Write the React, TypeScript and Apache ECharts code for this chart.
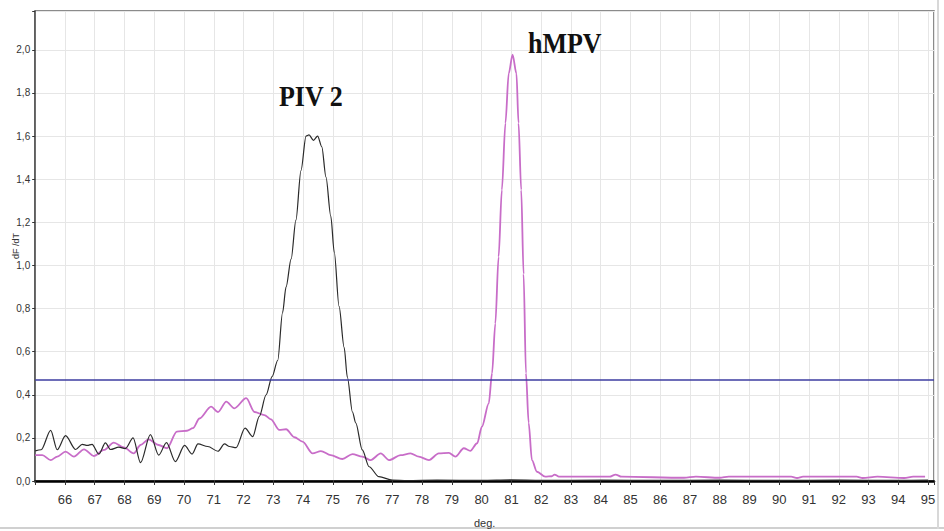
import React, { useEffect, useRef } from "react";
import * as echarts from "echarts";

// PIV 2 melt curve (black): temperature (deg) and dF/dT
const piv2Temp = [
  65.0, 65.2, 65.52, 65.74, 66.02, 66.36, 66.58, 66.75, 66.91, 67.14, 67.36, 67.53, 67.81, 68.03, 68.29,
  68.54, 68.87, 69.15, 69.41, 69.71, 70.02, 70.27, 70.47, 70.8, 71.14, 71.36, 71.53, 71.75, 72.05, 72.31,
  72.53, 72.76, 72.96, 73.15, 73.31, 73.43, 73.6, 73.76, 73.93, 74.1, 74.2, 74.35, 74.49, 74.63, 74.77,
  74.93, 75.05, 75.21, 75.38, 75.49, 75.66, 75.77, 75.99, 76.22, 76.55, 77.0, 77.5, 78.5, 80.0, 81.0,
  82.0, 84.0, 86.0, 88.0, 90.0, 92.0, 94.0, 95.0,
];
const piv2Value = [
  0.14, 0.145, 0.235, 0.145, 0.21, 0.146, 0.17, 0.165, 0.17, 0.125, 0.177, 0.146, 0.157, 0.15, 0.2,
  0.085, 0.215, 0.12, 0.178, 0.09, 0.165, 0.125, 0.172, 0.16, 0.138, 0.172, 0.16, 0.155, 0.245, 0.206,
  0.3, 0.4, 0.484, 0.56, 0.78, 0.9, 1.03, 1.21, 1.44, 1.6, 1.605, 1.58, 1.6, 1.55, 1.41,
  1.23, 1.06, 0.81, 0.62, 0.48, 0.32, 0.27, 0.144, 0.066, 0.02, 0.004, 0.002, 0.004, 0.003, 0.005,
  0.003, 0.004, 0.003, 0.004, 0.003, 0.004, 0.003, 0.004,
];

// hMPV melt curve (pink)
const hmpvTemp = [
  65.0, 65.24, 65.52, 65.74, 66.02, 66.3, 66.64, 66.97, 67.31, 67.64, 67.98, 68.31, 68.54, 68.81, 69.15,
  69.43, 69.76, 70.1, 70.3, 70.52, 70.91, 71.14, 71.42, 71.69, 72.09, 72.37, 72.7, 72.92, 73.2, 73.43,
  73.71, 73.98, 74.32, 74.6, 74.93, 75.32, 75.66, 75.99, 76.27, 76.61, 76.89, 77.28, 77.61, 77.89, 78.23,
  78.56, 78.9, 79.12, 79.4, 79.62, 79.85, 80.01, 80.24, 80.35, 80.46, 80.57, 80.68, 80.8, 80.91, 81.04,
  81.17, 81.24, 81.33, 81.41, 81.49, 81.58, 81.69, 81.86, 82.14, 82.36, 82.45, 82.6, 84.3, 84.5, 84.7,
  86.8, 87.2, 88.0, 88.3, 90.4, 90.6, 90.8, 92.6, 92.8, 93.3, 94.2, 94.5, 94.9,
];
const hmpvValue = [
  0.12, 0.12, 0.097, 0.113, 0.136, 0.113, 0.147, 0.116, 0.144, 0.178, 0.156, 0.128, 0.167, 0.193, 0.167,
  0.152, 0.229, 0.233, 0.245, 0.29, 0.345, 0.32, 0.368, 0.337, 0.384, 0.32, 0.306, 0.286, 0.237, 0.24,
  0.203, 0.183, 0.128, 0.139, 0.12, 0.102, 0.125, 0.113, 0.097, 0.128, 0.097, 0.12, 0.128, 0.113, 0.097,
  0.128, 0.13, 0.113, 0.152, 0.14, 0.175, 0.252, 0.36, 0.5, 0.73, 1.04, 1.35, 1.66, 1.89, 1.977,
  1.89, 1.66, 1.35, 0.96, 0.5, 0.27, 0.097, 0.043, 0.02, 0.022, 0.03, 0.02, 0.02, 0.03, 0.02,
  0.015, 0.02, 0.015, 0.02, 0.02, 0.014, 0.02, 0.02, 0.014, 0.02, 0.014, 0.02, 0.02,
];

const thresholdValue = 0.475;
const xTicks = { min: 65, max: 95.2, step: 1 };
const yTicks = { min: 0, max: 2.18, step: 0.2 };
const peakLabels = [
  { text: "PIV 2", x: 279, y: 96 },
  { text: "hMPV", x: 528, y: 43 },
];

export default function App() {
  const ref = useRef<HTMLDivElement>(null);

  useEffect(() => {
    if (!ref.current) return;
    const chart = echarts.init(ref.current, undefined, { renderer: "svg" });
    const piv2 = piv2Temp.map((t, i) => [t, piv2Value[i]]);
    const hmpv = hmpvTemp.map((t, i) => [t, hmpvValue[i]]);
    const isMult = (v: number, s: number) => Math.abs(v / s - Math.round(v / s)) < 1e-6;

    chart.setOption({
      animation: false,
      backgroundColor: "#ffffff",
      grid: {
        left: 35.2,
        right: 10,
        top: 11,
        bottom: 50,
        containLabel: false,
        outerBoundsMode: "none",
        show: true,
        borderColor: "#666666",
        borderWidth: 1.5,
      },
      xAxis: {
        type: "value",
        min: xTicks.min,
        max: xTicks.max,
        interval: xTicks.step,
        name: "deg.",
        nameLocation: "middle",
        nameGap: 36,
        nameMoveOverlap: false,
        nameTextStyle: { fontSize: 11, color: "#333", fontFamily: "'Liberation Sans Narrow', 'Liberation Sans', sans-serif" },
        axisLine: { show: true, onZero: false, lineStyle: { color: "#000", width: 2.5 } },
        axisTick: { show: true, length: 4, lineStyle: { color: "#333" } },
        axisLabel: {
          fontSize: 13,
          color: "#333",
          margin: 12,
          fontFamily: "'Liberation Sans Narrow', 'Liberation Sans', sans-serif",
          formatter: (v: number) => (v > 65.5 && v < 95.1 && isMult(v, 1) ? String(Math.round(v)) : ""),
        },
        splitLine: { show: true, lineStyle: { color: "#e6e6e6", width: 1 } },
      },
      yAxis: {
        type: "value",
        min: yTicks.min,
        max: yTicks.max,
        interval: yTicks.step,
        name: "dF /dT",
        nameLocation: "middle",
        nameRotate: 90,
        nameGap: 15,
        nameMoveOverlap: false,
        nameTextStyle: { fontSize: 9, color: "#333", fontFamily: "'Liberation Sans', sans-serif" },
        axisLine: { show: true, lineStyle: { color: "#444", width: 1.5 } },
        axisTick: { show: true, length: 3, lineStyle: { color: "#333" } },
        axisLabel: {
          fontSize: 10,
          color: "#333",
          margin: 5,
          fontFamily: "'Liberation Sans Narrow', 'Liberation Sans', sans-serif",
          formatter: (v: number) => (isMult(v, 0.2) ? v.toFixed(1).replace(".", ",") : ""),
        },
        splitLine: { show: true, lineStyle: { color: "#e6e6e6", width: 1 } },
      },
      series: [
        {
          name: "hMPV",
          type: "line",
          data: hmpv,
          showSymbol: false,
          smooth: 0.3,
          smoothMonotone: "x",
          lineStyle: { color: "#c86dc8", width: 1.8 },
          z: 3,
        },
        {
          name: "PIV 2",
          type: "line",
          data: piv2,
          showSymbol: false,
          smooth: 0.3,
          smoothMonotone: "x",
          lineStyle: { color: "#2a2a2a", width: 1.2 },
          z: 4,
          markLine: {
            silent: true,
            symbol: "none",
            label: { show: false },
            lineStyle: { color: "#3c3ca0", width: 1.5, type: "solid" },
            data: [{ yAxis: thresholdValue }],
          },
        },
      ],
      graphic: [
        ...peakLabels.map((p) => ({
          type: "text",
          x: p.x,
          y: p.y,
          scaleY: 1.15,
          style: {
            text: p.text,
            fill: "#111",
            font: "bold 26px 'Liberation Serif', 'Times New Roman', serif",
            verticalAlign: "middle",
            align: "left",
          },
          z: 10,
        })),
        {
          type: "rect",
          shape: { x: 0, y: 527, width: 944, height: 2 },
          style: { fill: "#d0d0d0" },
          silent: true,
        },
        {
          type: "rect",
          shape: { x: 937, y: 0, width: 2, height: 529 },
          style: { fill: "#d8d8d8" },
          silent: true,
        },
      ],
    });
    return () => chart.dispose();
  }, []);

  return (
    <div
      ref={ref}
      style={{ position: "fixed", left: 0, top: 0, width: 944, height: 531, background: "#fff" }}
    />
  );
}
